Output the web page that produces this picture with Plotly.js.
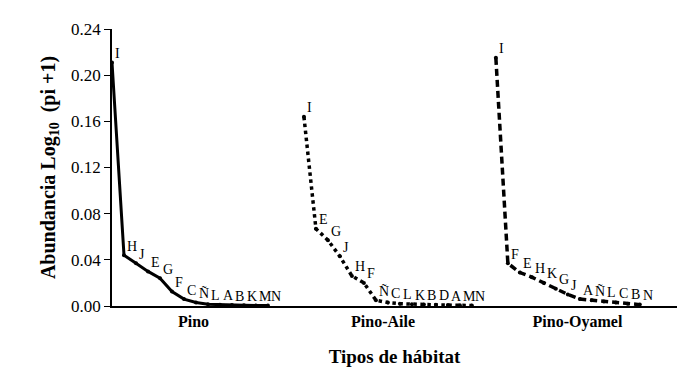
<!DOCTYPE html>
<html>
<head>
<meta charset="utf-8">
<script src="https://cdn.plot.ly/plotly-3.0.1.min.js"></script>
<style>html,body{margin:0;padding:0;background:#fff}#chart{width:691px;height:384px}</style>
</head>
<body>
<div id="chart"></div>
<script>
// Pino
var pinoX = [0,1,2,3,4,5,6,7,8,9,10,11,12,13];
var pinoLabels = ["I","H","J","E","G","F","C","Ñ","L","A","B","K","M","N"];
var pinoValues = [0.211,0.044,0.037,0.030,0.024,0.0125,0.006,0.003,0.0015,0.001,0.0008,0.0006,0.0005,0.0004];
// Pino-Aile
var aileX = [16,17,18,19,20,21,22,23,24,25,26,27,28,29,30];
var aileLabels = ["I","E","G","J","H","F","Ñ","C","L","K","B","D","A","M","N"];
var aileValues = [0.164,0.067,0.057,0.043,0.026,0.020,0.005,0.003,0.002,0.0015,0.0012,0.001,0.0008,0.0006,0.0004];
// Pino-Oyamel
var oyaX = [32,33,34,35,36,37,38,39,40,41,42,43,44];
var oyaLabels = ["I","F","E","H","K","G","J","A","Ñ","L","C","B","N"];
var oyaValues = [0.215,0.037,0.029,0.025,0.020,0.015,0.010,0.006,0.005,0.004,0.003,0.002,0.0012];
// Axis ticks
var groupTickPos = [6.8,22.6,38.8];
var groupNames = ["Pino","Pino-Aile","Pino-Oyamel"];
var yTicks = [0,0.04,0.08,0.12,0.16,0.20,0.24];
var yTickText = ["0.00","0.04","0.08","0.12","0.16","0.20","0.24"];

var serif = "Liberation Serif, Times New Roman, serif";
function tr(x, y, dash, w) {
  return {
    x: x, y: y, type: "scatter", mode: "lines+markers",
    line: {color: "#000", width: w, dash: dash},
    marker: {color: "#000", size: 4},
    cliponaxis: false, hoverinfo: "none"
  };
}
var data = [
  tr(pinoX, pinoValues, "solid", 3),
  tr(aileX, aileValues, "dot", 3.5),
  tr(oyaX, oyaValues, "7px,4px", 3.5)
];
var annotations = [];
function addLabels(xs, ys, ts) {
  for (var i = 0; i < xs.length; i++) {
    annotations.push({
      x: xs[i], y: ys[i], text: ts[i], showarrow: false,
      xanchor: "left", yanchor: "middle", xshift: 1, yshift: 9,
      font: {family: serif, size: 14, color: "#000"}
    });
  }
}
addLabels(pinoX, pinoValues, pinoLabels);
addLabels(aileX, aileValues, aileLabels);
addLabels(oyaX, oyaValues, oyaLabels);

var layout = {
  width: 691, height: 384,
  margin: {l: 112, r: 14, t: 29, b: 78},
  paper_bgcolor: "#fff", plot_bgcolor: "#fff",
  showlegend: false,
  font: {family: serif, color: "#000"},
  annotations: annotations,
  xaxis: {
    range: [0, 47.1], showgrid: false, zeroline: false,
    showline: true, linecolor: "#000", linewidth: 1.5,
    tickmode: "array", tickvals: groupTickPos, ticktext: groupNames,
    ticks: "", tickfont: {family: serif, size: 16, weight: "bold", color: "#000"},
    title: {text: "<b>Tipos de hábitat</b>", font: {family: serif, size: 19, color: "#000"}, standoff: 20}
  },
  yaxis: {
    range: [0, 0.24], showgrid: false, zeroline: false,
    showline: true, linecolor: "#000", linewidth: 1.8,
    tickmode: "array", tickvals: yTicks, ticktext: yTickText,
    ticks: "outside", ticklen: 6, tickcolor: "#000", tickwidth: 1,
    tickfont: {family: serif, size: 17, color: "#000"},
    title: {text: "<b>Abundancia Log<sub>10</sub>  (pi +1)</b>", font: {family: serif, size: 20, color: "#000"}, standoff: 10}
  }
};
Plotly.newPlot("chart", data, layout, {displayModeBar: false, staticPlot: true});
</script>
</body>
</html>
